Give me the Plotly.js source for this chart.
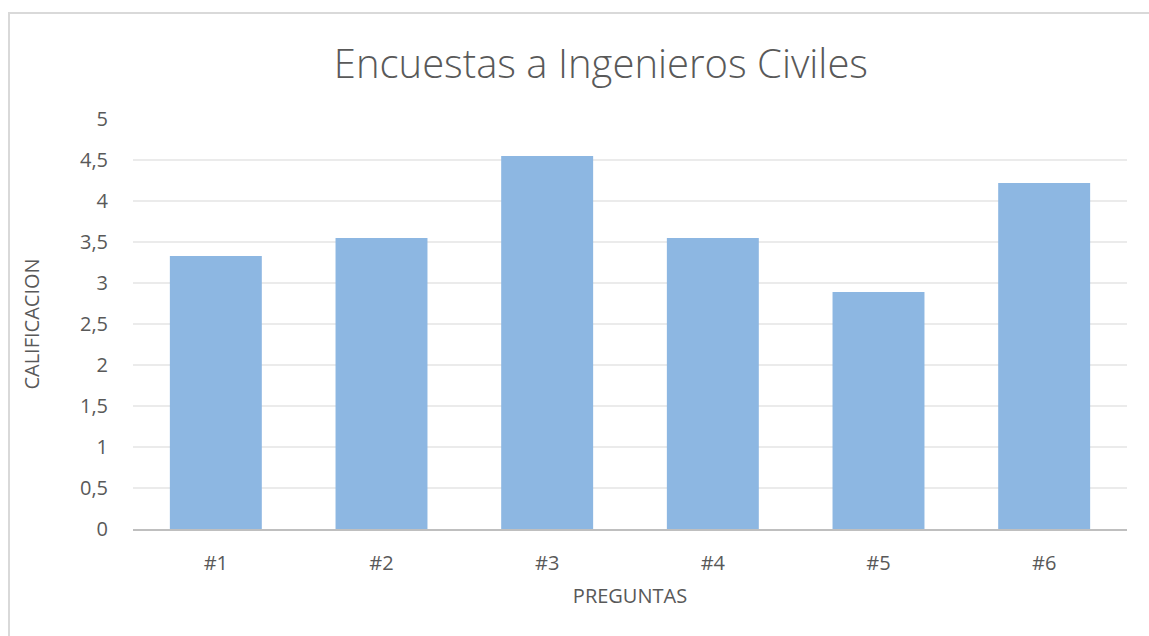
<!DOCTYPE html>
<html><head><meta charset="utf-8">
<script src="https://cdn.plot.ly/plotly-3.0.1.min.js"></script>
<style>
html,body{margin:0;padding:0;background:#fff;}
#frame{position:absolute;left:8px;top:12px;width:1160px;height:640px;border-left:2px solid #d9d9d9;border-top:2px solid #d9d9d9;pointer-events:none;z-index:5;}
#chart{width:1149px;height:636px;}
</style></head>
<body>
<div id="frame"></div>
<div id="chart"></div>
<script>
const categories = ["#1","#2","#3","#4","#5","#6"];
const values = [3.33, 3.55, 4.55, 3.55, 2.89, 4.22];
const tickVals = [0,0.5,1,1.5,2,2.5,3,3.5,4,4.5,5];
const tickText = ["0","0,5","1","1,5","2","2,5","3","3,5","4","4,5","5"];

const trace = {
  type: 'bar', x: categories, y: values,
  marker: {color: 'rgb(141,183,226)'},
  hoverinfo: 'x+y'
};
const layout = {
  width: 1149, height: 636,
  margin: {l: 133, r: 22, t: 119, b: 107},
  paper_bgcolor: '#fff', plot_bgcolor: '#fff',
  bargap: 0.445,
  showlegend: false,
  title: {text: 'Encuestas a Ingenieros Civiles', x: 0.523, xanchor: 'center', y: 0.9, yanchor: 'middle', yref: 'container',
    font: {family: 'Open Sans', size: 40, color: '#595959', weight: 300}},
  font: {family: 'Open Sans', color: '#595959'},
  xaxis: {type: 'category', title: {text: 'PREGUNTAS', font: {size: 20, color: '#595959'}, standoff: 14},
    tickfont: {size: 20, color: '#595959'}, showline: true, linecolor: '#bfbfbf', linewidth: 2,
    ticks: 'outside', ticklen: 15, tickcolor: 'rgba(0,0,0,0)', showgrid: false, zeroline: false},
  yaxis: {title: {text: 'CALIFICACION', font: {size: 20, color: '#595959'}, standoff: 34},
    range: [0, 5], tickvals: tickVals, ticktext: tickText,
    tickfont: {size: 20, color: '#595959'}, ticks: 'outside', ticklen: 20, tickcolor: 'rgba(0,0,0,0)',
    showgrid: true, gridcolor: '#ebebeb', gridwidth: 1.5, zeroline: false, showline: false}
};
Plotly.newPlot('chart', [trace], layout, {displayModeBar: false, staticPlot: true});
</script>
</body></html>
